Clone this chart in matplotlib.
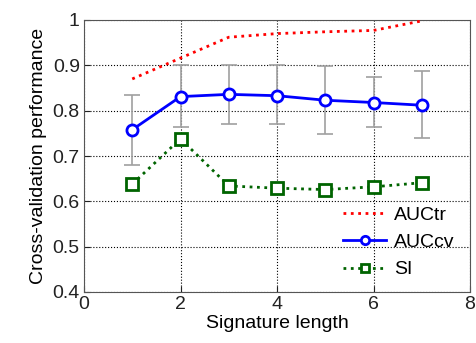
import matplotlib.pyplot as plt
import numpy as np

plt.rcParams['font.family'] = ['Liberation Sans', 'DejaVu Sans']

sig_len = [1, 2, 3, 4, 5, 6, 7]
auc_tr = [0.870, 0.916, 0.962, 0.970, 0.974, 0.977, 0.998]
auc_cv = [0.758, 0.831, 0.836, 0.833, 0.823, 0.818, 0.812]
cv_hi = [0.834, 0.900, 0.900, 0.900, 0.899, 0.874, 0.888]
cv_lo = [0.681, 0.765, 0.771, 0.771, 0.749, 0.765, 0.740]
si = [0.638, 0.738, 0.634, 0.629, 0.626, 0.632, 0.641]

fig = plt.figure(figsize=(4.76, 3.43), dpi=100)
ax = fig.add_axes([84/476, 1 - 292/343, 386/476, 272/343])

cv = np.array(auc_cv)
yerr = [cv - np.array(cv_lo), np.array(cv_hi) - cv]
ax.errorbar(sig_len, auc_cv, yerr=yerr, fmt='none', ecolor='#a0a0a0',
            elinewidth=1.2, capsize=6, capthick=1.2, zorder=2)

ax.plot(sig_len, auc_tr, color='red', linestyle=':', linewidth=2, label='AUCtr', zorder=3)
ax.plot(sig_len, auc_cv, color='blue', linestyle='-', linewidth=2, marker='o',
        markersize=8, markerfacecolor='white', markeredgewidth=2, label='AUCcv', zorder=4)
ax.plot(sig_len, si, color='#006400', linestyle=':', linewidth=2, marker='s',
        markersize=8, markerfacecolor='white', markeredgewidth=2, label='SI', zorder=4)

ax.set_xlim(0, 8)
ax.set_ylim(0.4, 1.0)
ax.set_xticks([0, 2, 4, 6, 8])
ax.set_yticks([0.4, 0.5, 0.6, 0.7, 0.8, 0.9, 1.0])
ax.set_yticklabels(['0.4', '0.5', '0.6', '0.7', '0.8', '0.9', '1'])
ax.grid(True, color='black', linestyle=':', linewidth=0.8)
ax.set_axisbelow(True)
ax.tick_params(labelsize=14, direction='in', length=4, colors='#222222', pad=3)
for s in ax.spines.values():
    s.set_color('#555555')
ax.set_xlabel('Signature length', fontsize=14, labelpad=1)
ax.set_ylabel('Cross-validation performance', fontsize=14, labelpad=4)

ax.legend(loc='lower right', frameon=False, fontsize=14, handlelength=2.2,
          borderaxespad=0.3, labelspacing=0.5, handletextpad=0.4,
          markerscale=0.75, bbox_to_anchor=(0.995, 0.0))

fig.savefig('out.png', dpi=100)
